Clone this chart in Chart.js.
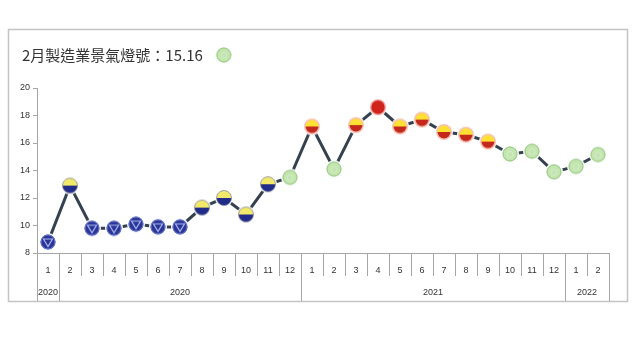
<!DOCTYPE html>
<html>
<head>
<meta charset="utf-8">
<script src="https://cdn.jsdelivr.net/npm/chart.js@4/dist/chart.umd.min.js"></script>
<style>
html,body{margin:0;padding:0;background:#fff;}
#wrap{width:640px;height:360px;position:relative;}
</style>
</head>
<body>
<div id="wrap"><canvas id="c" width="640" height="360"></canvas></div>
<script>
// ---- data ----
const months = ['1','2','3','4','5','6','7','8','9','10','11','12','1','2','3','4','5','6','7','8','9','10','11','12','1','2'];
const yearLabels = ['2020','2020','2021','2022'];
const yearSpans = [1, 11, 12, 2];
const scores = [8.8,12.9,9.8,9.8,10.1,9.9,9.9,11.3,12.0,10.8,13.0,13.5,17.2,14.1,17.3,18.6,17.2,17.7,16.8,16.6,16.1,15.2,15.4,13.9,14.3,15.16];
const signals = ['blue','yb','blue','blue','blue','blue','blue','yb','yb','yb','yb','green','yr','green','yr','red','yr','yr','yr','yr','yr','green','green','green','green','green'];
const titleText = '2月製造業景氣燈號：15.16';
const titleSignal = 'green';
const yTicks = [8,10,12,14,16,18,20];

// ---- marker images ----
function makeMarker(type){
  const s = 22, c = s/2;
  const cv = document.createElement('canvas');
  cv.width = s; cv.height = s;
  const g = cv.getContext('2d');
  g.fillStyle = '#fff';
  g.beginPath(); g.arc(c,c,9,0,Math.PI*2); g.fill();
  const r = 7.5;
  if(type==='blue'){
    g.fillStyle = '#2a3596';
    g.beginPath(); g.arc(c,c,r,0,Math.PI*2); g.fill();
    g.strokeStyle = '#6f7fcf'; g.lineWidth = 1;
    g.beginPath(); g.arc(c,c,r-0.5,0,Math.PI*2); g.stroke();
    g.strokeStyle = '#a9b8f0'; g.lineWidth = 1.2;
    g.beginPath(); g.moveTo(c-4.5,c-3); g.lineTo(c+4.5,c-3); g.lineTo(c,c+4.5); g.closePath(); g.stroke();
  } else if(type==='yb'){
    g.fillStyle = '#f2e96a';
    g.beginPath(); g.arc(c,c,r,Math.PI,0); g.closePath(); g.fill();
    g.fillStyle = '#202c88';
    g.beginPath(); g.arc(c,c,r,0,Math.PI); g.closePath(); g.fill();
    g.strokeStyle = '#8a8aa0'; g.lineWidth = 0.8;
    g.beginPath(); g.arc(c,c,r,0,Math.PI*2); g.stroke();
  } else if(type==='green'){
    g.fillStyle = '#c3e5b0';
    g.beginPath(); g.arc(c,c,r,0,Math.PI*2); g.fill();
    g.strokeStyle = '#97c983'; g.lineWidth = 1;
    g.beginPath(); g.arc(c,c,r-0.5,0,Math.PI*2); g.stroke();
    g.strokeStyle = '#d8efcc'; g.lineWidth = 0.8;
    g.beginPath(); g.arc(c,c+0.5,3,0,Math.PI*2); g.stroke();
  } else if(type==='yr'){
    g.fillStyle = '#f7c3b5';
    g.beginPath(); g.arc(c,c,r+0.5,0,Math.PI*2); g.fill();
    g.fillStyle = '#ffe033';
    g.beginPath(); g.arc(c,c,r-1,Math.PI,0); g.closePath(); g.fill();
    g.fillStyle = '#c4281c';
    g.beginPath(); g.arc(c,c,r-1,0,Math.PI); g.closePath(); g.fill();
  } else if(type==='red'){
    g.fillStyle = '#f0a7a0';
    g.beginPath(); g.arc(c,c,r+0.5,0,Math.PI*2); g.fill();
    g.fillStyle = '#d0231b';
    g.beginPath(); g.arc(c,c,r-0.8,0,Math.PI*2); g.fill();
  }
  return cv;
}
const markerCache = {};
['blue','yb','green','yr','red'].forEach(t=>markerCache[t]=makeMarker(t));

const AXIS = '#a6a6a6';
const FRAME = '#c4c4c4';

const decor = {
  id:'decor',
  beforeDraw(chart){
    const ctx = chart.ctx;
    ctx.save();
    ctx.fillStyle = '#fff';
    ctx.fillRect(0,0,chart.width,chart.height);
    ctx.strokeStyle = FRAME; ctx.lineWidth = 1.5;
    ctx.strokeRect(8.5,29.5,619,272);
    // title
    ctx.fillStyle = '#333';
    ctx.font = "15px 'Noto Sans CJK TC'";
    ctx.textBaseline = 'middle';
    ctx.textAlign = 'left';
    ctx.fillText(titleText, 22, 55);
    const tw = ctx.measureText(titleText).width;
    ctx.drawImage(markerCache[titleSignal], 22+tw+21-11, 55-11);
    ctx.restore();
  },
  afterDraw(chart){
    const ctx = chart.ctx;
    const xs = chart.scales.x;
    const ca = chart.chartArea;
    const w = xs.getPixelForValue(1) - xs.getPixelForValue(0);
    const x0 = xs.getPixelForValue(0) - w/2;
    const groupIdx = [0];
    let acc = 0;
    yearSpans.forEach(s=>{acc+=s; groupIdx.push(acc);});
    ctx.save();
    ctx.strokeStyle = AXIS; ctx.lineWidth = 1;
    for(let i=0;i<=months.length;i++){
      const x = Math.round(x0 + i*w) + 0.5;
      const full = groupIdx.includes(i);
      ctx.beginPath();
      ctx.moveTo(x, ca.bottom);
      ctx.lineTo(x, full ? 301 : 276);
      ctx.stroke();
    }
    ctx.fillStyle = '#333';
    ctx.font = "9px 'Liberation Sans'";
    ctx.textAlign = 'center'; ctx.textBaseline = 'middle';
    let start = 0;
    yearSpans.forEach((s,k)=>{
      const cx = x0 + (start + s/2)*w;
      ctx.fillText(yearLabels[k], cx, 293);
      start += s;
    });
    ctx.restore();
  }
};

new Chart(document.getElementById('c'), {
  type:'line',
  data:{
    labels: months,
    datasets:[{
      data: scores,
      borderColor:'#34424f',
      borderWidth:3,
      tension:0,
      pointStyle: signals.map(s=>markerCache[s]),
      pointRadius:8,
      pointHoverRadius:8,
      fill:false
    }]
  },
  options:{
    responsive:false,
    animation:false,
    events:[],
    layout:{padding:{left:0,right:31,top:88,bottom:0}},
    plugins:{legend:{display:false},tooltip:{enabled:false},title:{display:false}},
    scales:{
      x:{
        offset:true,
        grid:{display:false},
        border:{display:true,color:AXIS,width:1},
        ticks:{color:'#333',font:{family:'Liberation Sans',size:9},padding:4,maxRotation:0,autoSkip:false},
        afterFit(s){ s.height = 107; }
      },
      y:{
        min:8,max:20,
        afterBuildTicks(s){ s.ticks = yTicks.map(v=>({value:v})); },
        grid:{drawOnChartArea:false,tickLength:4,color:AXIS},
        border:{display:true,color:AXIS,width:1},
        ticks:{color:'#333',font:{family:'Liberation Sans',size:9},padding:3},
        afterFit(s){ s.width = 37; }
      }
    }
  },
  plugins:[decor]
});
</script>
</body>
</html>
